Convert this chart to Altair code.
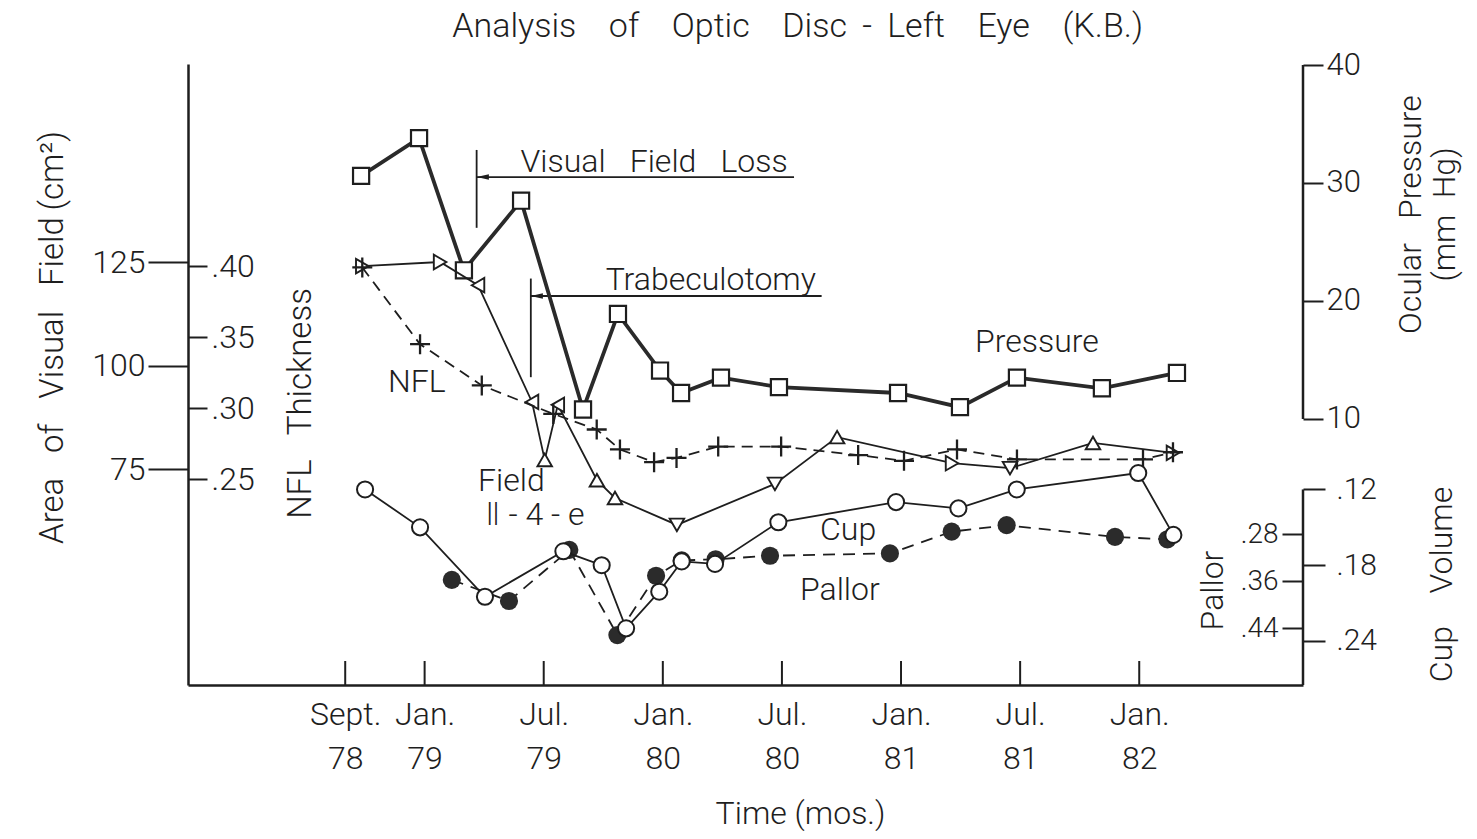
import altair as alt
import pandas as pd

FONT = "Roboto, DejaVu Sans"
INK = "#1e1e1e"
W, H = 1115, 621

# ---------------- data ----------------
# time in months since Sept. 1978
tick_months = [0, 4, 10, 16, 22, 28, 34, 40]
tick_month_names = ["Sept.", "Jan.", "Jul.", "Jan.", "Jul.", "Jan.", "Jul.", "Jan."]
tick_years = ["78", "79", "79", "80", "80", "81", "81", "82"]

pressure_t = [0.80, 3.72, 5.98, 8.86, 11.98, 13.74, 15.86, 16.92, 18.93, 21.85, 27.85, 30.97, 33.84, 38.12, 41.90]
pressure_v = [30.6, 33.8, 22.6, 28.5, 10.8, 18.9, 14.1, 12.2, 13.5, 12.7, 12.2, 11.0, 13.5, 12.6, 13.9]

field_t = [0.86, 4.78, 6.69, 9.41, 10.05, 10.71, 12.68, 13.59, 16.71, 21.65, 24.78, 30.57, 33.49, 37.67, 41.70]
field_v = [124.0, 125.0, 119.4, 91.2, 77.2, 90.5, 72.3, 68.0, 61.5, 71.4, 82.7, 76.4, 75.2, 81.3, 78.9]
field_dir = ["right", "right", "left", "left", "up", "left", "up", "up", "down", "down", "up", "right", "down", "up", "right"]

nfl_t = [0.86, 3.77, 6.88, 10.48, 12.67, 13.84, 15.56, 16.69, 18.79, 21.96, 25.84, 28.15, 30.82, 33.84, 40.19, 41.70]
nfl_v = [0.399, 0.345, 0.316, 0.296, 0.285, 0.271, 0.262, 0.265, 0.273, 0.273, 0.267, 0.263, 0.271, 0.264, 0.264, 0.269]

cup_t = [1.00, 3.77, 7.04, 10.99, 12.92, 14.15, 15.82, 16.95, 18.63, 21.82, 27.75, 30.89, 33.83, 39.95, 41.72]
cup_v = [0.120, 0.150, 0.205, 0.169, 0.180, 0.230, 0.201, 0.177, 0.179, 0.146, 0.130, 0.135, 0.120, 0.107, 0.156]

pallor_t = [5.37, 8.25, 11.29, 13.71, 15.66, 16.95, 18.66, 21.40, 27.44, 30.55, 33.32, 38.78, 41.42]
pallor_v = [0.358, 0.394, 0.307, 0.452, 0.351, 0.325, 0.323, 0.317, 0.313, 0.276, 0.265, 0.285, 0.289]

pressure_ticks = [10, 20, 30, 40]
field_ticks = [75, 100, 125]
nfl_ticks = [0.25, 0.30, 0.35, 0.40]
cup_ticks = [0.12, 0.18, 0.24]
pallor_ticks = [0.28, 0.36, 0.44]

# annotation arrows (time, pressure units)
event_names = ["Visual\u2002 Field\u2002 Loss", "Trabeculotomy"]
event_t = [6.62, 9.35]
event_span_lo = [26.2, 13.54]
event_span_hi = [32.8, 21.9]
event_line_y = [30.5, 20.42]
event_line_end = [22.61, 24.0]
event_head_t = [6.93, 9.65]
event_text_t = [8.83, 13.12]
event_text_y = [30.94, 20.96]

# chart title (time, pressure units)
GAP = "\u2002\u2009 "
title_words = ["Analysis", "of", "Optic", "Disc\u2009 -\u2009 Left", "Eye", "(K.B.)"]
title_label = ([GAP.join(title_words)], [22.79], [42.38])

# series labels
pressure_label = (["Pressure"], [31.73], [15.64])
field_label = (["Field", "\u2161 - 4 - e"], [6.69, 7.04], [69.76, 61.5])
nfl_label = (["NFL"], [2.16], [0.3114])
cup_label = (["Cup"], [23.92], [0.160])
pallor_label = (["Pallor"], [22.91], [0.392])

# ---------------- shared x ----------------
labels_js = "[" + ",".join(f"['{a}','{b}']" for a, b in zip(tick_month_names, tick_years)) + "]"
vals_js = "[" + ",".join(str(v) for v in tick_months) + "]"
xscale = alt.Scale(domain=[-7.92, 48.25], nice=False, zero=False)
xaxis = alt.Axis(
    values=tick_months, ticks=False, domain=True, domainWidth=2.5, domainColor=INK,
    labelExpr=f"{labels_js}[indexof({vals_js}, datum.value)]",
    labelFontSize=32, labelPadding=14, labelBaseline="top", labelLineHeight=44,
    labelAlign="center", labelOverlap=False, labelFlush=False,
    title="Time (mos.)", titleFontSize=32, titleX=612, titleY=138,
    titleBaseline="alphabetic", titleAlign="center", titleAnchor="start",
)
X = alt.X("x:Q", scale=xscale, axis=xaxis)
X2 = alt.X2("x2:Q")

dotfmt = "replace(format(datum.value, '.2f'), '0.', '.')"


def text_layer(data_tuple, y, align="left", size=32):
    names, xs, ys = data_tuple
    df = pd.DataFrame({"x": xs, "y": ys, "t": names})
    return alt.Chart(df).mark_text(
        font=FONT, fontSize=size, fontWeight=300, align=align, baseline="alphabetic", color=INK
    ).encode(x=X, y=y, text="t:N")


# ---------------- pressure group ----------------
pscale = alt.Scale(domain=[-12.55, 40.085], nice=False, zero=False)
paxis = alt.Axis(
    orient="right", values=pressure_ticks, tickSize=20, tickWidth=2, domain=False,
    labelPadding=3, labelFontSize=31,
    title=["Ocular\u2002 Pressure", "(mm\u2002Hg)"], titleFontSize=32, titleAngle=270,
    titleBaseline="middle", titleAlign="center", titleX=107, titleY=150, titleLineHeight=34,
)
PY = alt.Y("y:Q", scale=pscale, axis=paxis)
p_df = pd.DataFrame({"x": pressure_t, "y": pressure_v})
p_line = alt.Chart(p_df).mark_line(color="#2a2a2a", strokeWidth=3.8).encode(x=X, y=PY)
p_pts = alt.Chart(p_df).mark_point(
    shape="square", size=260, filled=True, fill="white", stroke=INK, strokeWidth=2.2, opacity=1
).encode(x=X, y=PY)
p_axisline = alt.Chart(pd.DataFrame({"x": [0], "y": [min(pressure_ticks)], "y2": [max(pressure_ticks)]})).mark_rule(
    color=INK, strokeWidth=2.5
).encode(x=alt.value(W), y=PY, y2="y2:Q")

rules_df = pd.DataFrame({
    "x": event_t + event_t,
    "x2": event_t + event_line_end,
    "y": event_span_lo + event_line_y,
    "y2": event_span_hi + event_line_y,
})
ev_rules = alt.Chart(rules_df).mark_rule(color=INK, strokeWidth=1.8).encode(x=X, x2=X2, y=PY, y2="y2:Q")
heads_df = pd.DataFrame({"x": event_head_t, "y": event_line_y})
ev_heads = alt.Chart(heads_df).mark_point(
    shape="M-1,0L1,-0.45L1,0.45Z", size=150, filled=True, color=INK, opacity=1
).encode(x=X, y=PY)
ev_text = text_layer((event_names, event_text_t, event_text_y), PY)
xticks = alt.Chart(pd.DataFrame({"x": tick_months})).mark_rule(color=INK, strokeWidth=2).encode(
    x=X, y=alt.value(H), y2=alt.value(H - 24)
)
p_text = text_layer(pressure_label, PY)
t_text = text_layer(title_label, PY, align="center", size=34)
pressure_group = alt.layer(xticks, p_axisline, ev_rules, ev_heads, ev_text, p_line, p_pts, p_text, t_text)

# ---------------- visual field group ----------------
fscale = alt.Scale(domain=[22.83, 172.83], nice=False, zero=False)
faxis = alt.Axis(
    orient="left", values=field_ticks, tickSize=40, tickWidth=2, domain=True, domainWidth=2.5,
    labelPadding=3, labelFontSize=32,
    title="Area\u2002 of\u2002 Visual\u2002 Field\u2009(cm\u00b2)", titleFontSize=33, titleAngle=270,
    titleBaseline="middle", titleAlign="center", titleX=-136, titleY=273,
)
FY = alt.Y("y:Q", scale=fscale, axis=faxis)
f_df = pd.DataFrame({"x": field_t, "y": field_v, "dir": field_dir})
f_line = alt.Chart(f_df).mark_line(color=INK, strokeWidth=1.8).encode(x=X, y=FY)
f_pts = alt.Chart(f_df).mark_point(
    size=210, filled=True, fill="white", stroke=INK, strokeWidth=1.9, opacity=1
).encode(
    x=X, y=FY,
    shape=alt.Shape("dir:N", scale=alt.Scale(
        domain=["right", "left", "up", "down"],
        range=["triangle-right", "triangle-left", "triangle-up", "triangle-down"]), legend=None),
)
f_text = text_layer(field_label, FY)
field_group = alt.layer(f_line, f_pts, f_text)

# ---------------- NFL group ----------------
nscale = alt.Scale(domain=[0.1053, 0.5421], nice=False, zero=False)
naxis = alt.Axis(
    orient="right", offset=-W, values=nfl_ticks, labelExpr=dotfmt, tickSize=19, tickWidth=2,
    domain=False, labelPadding=4, labelFontSize=32,
    title="NFL\u2002 Thickness", titleFontSize=33, titleAngle=270,
    titleBaseline="middle", titleAlign="center", titleX=112, titleY=339,
)
NY = alt.Y("y:Q", scale=nscale, axis=naxis)
n_df = pd.DataFrame({"x": nfl_t, "y": nfl_v})
n_line = alt.Chart(n_df).mark_line(color=INK, strokeWidth=1.8, strokeDash=[11, 7]).encode(x=X, y=NY)
n_pts = alt.Chart(n_df).mark_point(
    shape="M-1,0H1M0,-1V1", size=400, filled=False, color=INK, strokeWidth=2.3, opacity=1
).encode(x=X, y=NY)
n_text = text_layer(nfl_label, NY)
nfl_group = alt.layer(n_line, n_pts, n_text)

# ---------------- pallor group ----------------
lscale = alt.Scale(domain=[-0.52, 0.537], nice=False, zero=False, reverse=True)
laxis = alt.Axis(
    orient="left", offset=-W, values=pallor_ticks, labelExpr=dotfmt, tickSize=21, tickWidth=2,
    domain=False, labelPadding=4, labelFontSize=28,
    title="Pallor", titleFontSize=32, titleAngle=270,
    titleBaseline="middle", titleAlign="center", titleX=-91, titleY=526,
)
LY = alt.Y("y:Q", scale=lscale, axis=laxis)
l_df = pd.DataFrame({"x": pallor_t, "y": pallor_v})
l_line = alt.Chart(l_df).mark_line(color=INK, strokeWidth=1.8, strokeDash=[12, 8]).encode(x=X, y=LY)
l_pts = alt.Chart(l_df).mark_point(
    shape="circle", size=330, filled=True, color="#2b2b2b", opacity=1
).encode(x=X, y=LY)
l_text = text_layer(pallor_label, LY)
pallor_group = alt.layer(l_line, l_pts, l_text)

# ---------------- cup group ----------------
cscale = alt.Scale(domain=[-0.2170, 0.2749], nice=False, zero=False, reverse=True)
caxis = alt.Axis(
    orient="right", values=cup_ticks, labelExpr=dotfmt, tickSize=22, tickWidth=2,
    domain=False, labelPadding=11, labelFontSize=30,
    title="Cup\u2002\u2002Volume", titleFontSize=32, titleAngle=270,
    titleBaseline="middle", titleAlign="center", titleX=138, titleY=520,
)
CY = alt.Y("y:Q", scale=cscale, axis=caxis)
c_df = pd.DataFrame({"x": cup_t, "y": cup_v})
c_line = alt.Chart(c_df).mark_line(color=INK, strokeWidth=1.8).encode(x=X, y=CY)
c_pts = alt.Chart(c_df).mark_point(
    shape="circle", size=260, filled=True, fill="white", stroke=INK, strokeWidth=2, opacity=1
).encode(x=X, y=CY)
c_axisline = alt.Chart(pd.DataFrame({"x": [0], "y": [min(cup_ticks)]})).mark_rule(
    color=INK, strokeWidth=2.5
).encode(x=alt.value(W), y=CY, y2=alt.value(H))
c_text = text_layer(cup_label, CY)
cup_group = alt.layer(c_axisline, c_line, c_pts, c_text)

chart = alt.layer(
    pressure_group, field_group, nfl_group, pallor_group, cup_group
).resolve_scale(y="independent").properties(
    width=W, height=H,
    autosize=alt.AutoSizeParams(type="none"),
    padding={"left": 180, "top": 56, "right": 166, "bottom": 146},
).configure_view(stroke=None).configure_axis(
    grid=False, labelFont=FONT, titleFont=FONT, labelColor=INK, titleColor=INK,
    tickColor=INK, domainColor=INK, labelFontWeight=300, titleFontWeight=300,
)

chart.save("out.html", embed_options={"renderer": "svg", "actions": False})
